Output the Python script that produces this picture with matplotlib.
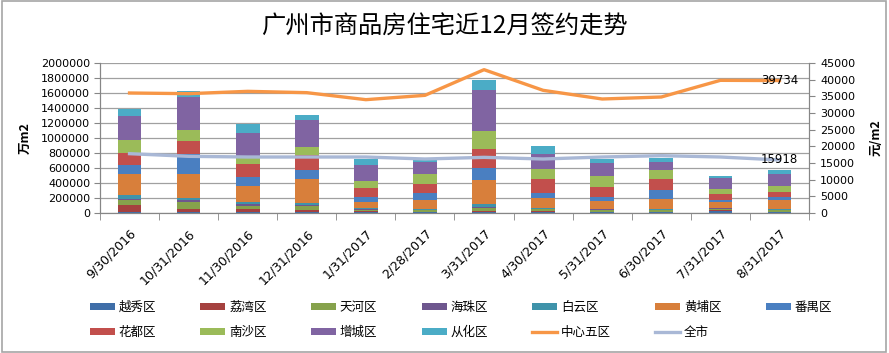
import numpy as np
import matplotlib
matplotlib.use('Agg')
import matplotlib.pyplot as plt
import matplotlib.transforms as mtransforms
from matplotlib.patches import Rectangle

plt.rcParams['font.family'] = ['Noto Sans CJK SC', 'DejaVu Sans']

# Data
months = ['9/30/2016', '10/31/2016', '11/30/2016', '12/31/2016', '1/31/2017', '2/28/2017',
          '3/31/2017', '4/30/2017', '5/31/2017', '6/30/2017', '7/31/2017', '8/31/2017']

yuexiu   = [15000, 13000, 13000, 13000, 10000, 10000, 13000, 20000, 10000, 10000, 30000, 8000]
liwan    = [96000, 45000, 36000, 31000, 12000, 10000, 18000, 12000, 8000, 6000, 8000, 6000]
tianhe   = [67000, 93000, 40000, 49000, 18000, 15000, 30000, 15000, 25000, 25000, 20000, 25000]
haizhu   = [13000, 18000, 27000, 18000, 12000, 10000, 18000, 8000, 8000, 5000, 5000, 5000]
baiyun   = [53000, 31000, 31000, 22000, 20000, 13000, 45000, 8000, 7000, 4000, 4000, 5000]
huangpu  = [280000, 324000, 217000, 325000, 75000, 110000, 320000, 135000, 98000, 132000, 75000, 120000]
panyu    = [120000, 258000, 117000, 111000, 72000, 100000, 156000, 70000, 57000, 129000, 27000, 44000]
huadu    = [160000, 178000, 178000, 200000, 110000, 115000, 249000, 185000, 134000, 147000, 80000, 67000]
nansha   = [174000, 151000, 80000, 111000, 100000, 135000, 244000, 140000, 142000, 120000, 71000, 80000]
zengcheng = [315000, 440000, 333000, 355000, 210000, 165000, 551000, 195000, 178000, 102000, 147000, 155000]
conghua  = [89000, 80000, 120000, 76000, 76000, 27000, 134000, 105000, 49000, 58000, 26000, 63000]

centre5  = [36000, 35800, 36500, 36100, 34000, 35300, 43000, 36800, 34200, 34800, 39800, 39734]
citywide = [17800, 17000, 16800, 16800, 16800, 16200, 16700, 16200, 16800, 17200, 16800, 15918]

names = ['越秀区', '荔湾区', '天河区', '海珠区', '白云区', '黄埔区', '番禺区',
         '花都区', '南沙区', '增城区', '从化区']
series = [yuexiu, liwan, tianhe, haizhu, baiyun, huangpu, panyu,
          huadu, nansha, zengcheng, conghua]
colours = ['#3f6ea8', '#a5413f', '#86a24c', '#6e578e', '#3f93aa', '#d87f3b', '#4a7fc1',
           '#c24f4c', '#9bbb59', '#8064a2', '#4bacc6']

F1 = plt.figure(figsize=(8.89, 3.53), dpi=100)
ax = F1.add_axes([100/889, 1-213/353, 709/889, 150/353])

x = np.arange(len(months))
bottom = np.zeros(len(months))
bars = []
for vals, nm, c in zip(series, names, colours):
    b = ax.bar(x, vals, width=0.4, bottom=bottom, color=c, label=nm, zorder=2)
    bars.append(b)
    bottom += np.array(vals)

ax.set_xlim(-0.5, 11.5)
ax.set_ylim(0, 2000000)
ax.set_yticks(np.arange(0, 2000001, 200000))
ax.set_yticklabels(['%d' % v for v in range(0, 2000001, 200000)], fontfamily='DejaVu Sans', fontsize=8)
ax.yaxis.grid(True, color='#a0a0a0', lw=0.9, zorder=0)
ax.set_axisbelow(True)
ax.set_xticks(x)
ax.set_xticklabels(months, rotation=45, ha='right', rotation_mode='anchor',
                   fontfamily='DejaVu Sans', fontsize=9)
# shift the rotated date labels a little to the right, like the original
offset = mtransforms.ScaledTranslation(10/100, 0, F1.dpi_scale_trans)
for lab in ax.get_xticklabels():
    lab.set_transform(lab.get_transform() + offset)
ax.set_xticks(np.arange(-0.5, 12, 1), minor=True)
ax.tick_params(axis='x', which='major', length=0, pad=10)
ax.tick_params(axis='x', which='minor', length=5, color='#868686')
ax.tick_params(axis='y', length=4, color='#868686', pad=3)
ax.set_ylabel('万m2', fontsize=9, fontweight='bold', labelpad=7)
for s in ['left', 'right', 'bottom']:
    ax.spines[s].set_color('#868686')
ax.spines['top'].set_visible(False)

ax2 = ax.twinx()
l1, = ax2.plot(x, centre5, color='#f79646', lw=2.4, label='中心五区', zorder=3)
l2, = ax2.plot(x, citywide, color='#a9b8d6', lw=2.4, label='全市', zorder=3)
ax2.set_ylim(0, 45000)
ax2.set_yticks(np.arange(0, 45001, 5000))
ax2.set_yticklabels(['%d' % v for v in range(0, 45001, 5000)], fontfamily='DejaVu Sans', fontsize=8)
ax2.tick_params(axis='y', length=4, color='#868686', pad=4)
ax2.set_ylabel('元/m2', fontsize=9, fontweight='bold', rotation=90, labelpad=10)
for s in ['left', 'right', 'bottom']:
    ax2.spines[s].set_color('#868686')
ax2.spines['top'].set_visible(False)

ax2.text(x[-1], centre5[-1], '%d' % centre5[-1], ha='center', va='center',
         fontfamily='DejaVu Sans', fontsize=8.5)
ax2.text(x[-1], citywide[-1], '%d' % citywide[-1], ha='center', va='center',
         fontfamily='DejaVu Sans', fontsize=8.5)

F1.text(0.5, 1-27/353, '广州市商品房住宅近12月签约走势', ha='center', va='center', fontsize=17.5)

# legend, row-wise order for 7 columns
handles = [b for b in bars] + [l1, l2]
labels = names + ['中心五区', '全市']
order = [0, 7, 1, 8, 2, 9, 3, 10, 4, 11, 5, 12, 6]
F1.legend([handles[i] for i in order], [labels[i] for i in order], ncol=7,
          loc='center', bbox_to_anchor=(461/889, 1-320/353), frameon=False, fontsize=9,
          handlelength=2.0, handleheight=0.5, handletextpad=0.3, columnspacing=3.55,
          labelspacing=1.0)

F1.patches.append(Rectangle((0.002, 0.003), 0.995, 0.993, transform=F1.transFigure,
                            fill=False, edgecolor='#a6a6a6', lw=1.2))

plt.savefig('out.png', dpi=100)
